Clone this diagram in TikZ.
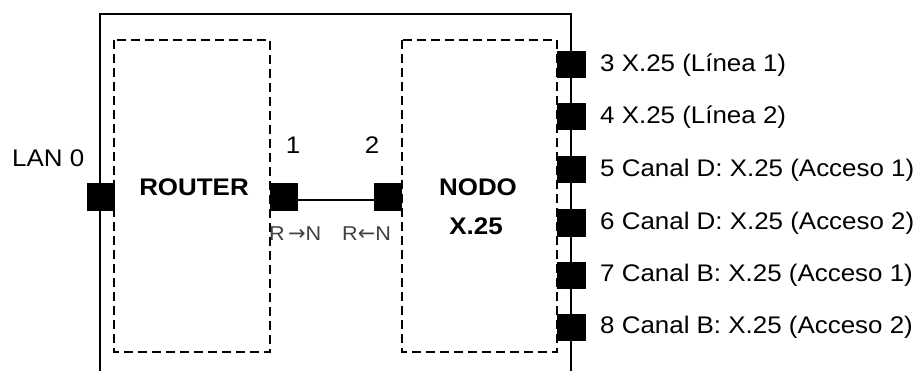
\documentclass[tikz,border=0pt]{standalone}
\usepackage{fontspec}
\setmainfont{Liberation Sans}[FakeStretch=1.08]
\newfontfamily\symfont{DejaVu Sans}
\begin{document}
\begin{tikzpicture}[x=1pt,y=-1pt,
  port/.style={fill=black,draw=none,minimum width=28pt,minimum height=28pt,inner sep=0pt},
  rport/.style={fill=black,draw=none,minimum width=29pt,minimum height=27pt,inner sep=0pt},
  frame/.style={line width=1.3pt},
  dbox/.style={line width=1.3pt,dash pattern=on 9pt off 5pt},
  lbl/.style={inner sep=0pt,font=\fontsize{24}{28}\selectfont},
  blbl/.style={inner sep=0pt,font=\fontsize{24}{28}\selectfont\bfseries},
  small/.style={inner sep=0pt,text=black!75,font=\fontsize{20}{24}\selectfont}]
\useasboundingbox (0,0) rectangle (917,371);
% outer frame (open at bottom)
\draw[frame] (100,371) -- (100,14) -- (571,14) -- (571,371);
% dashed boxes
\draw[dbox] (114,40) rectangle (270,352);
\draw[dbox] (402,40) rectangle (557,352);
% ports
\node[port] (lan) at (101,197) {};
\node[port] (p1) at (284,197) {};
\node[port] (p2) at (388,197) {};
\node[rport] (p3) at (571,65) {};
\node[rport] (p4) at (571,117) {};
\node[rport] (p5) at (571,170) {};
\node[rport] (p6) at (571,223) {};
\node[rport] (p7) at (571,275) {};
\node[rport] (p8) at (571,327) {};
\draw[line width=1.3pt] ([yshift=-3pt]p1.east) -- ([yshift=-3pt]p2.west);
% labels
\node[lbl,anchor=west] (tlan) at (12,158) {LAN 0};
\node[blbl] (trouter) at (194,187) {ROUTER};
\node[blbl] (tnodo) at (478,187) {NODO};
\node[blbl] (tx) at (476,226) {X.25};
\node[lbl] (t1) at (293,145) {1};
\node[lbl] (t2) at (372,145) {2};
\node[small,anchor=west] (trn) at (269,234) {R\,{\symfont\fontsize{21}{24}\selectfont →}N};
\node[small,anchor=west] (tnr) at (342,234) {R{\symfont\fontsize{21}{24}\selectfont ←}N};
\node[lbl,anchor=west] (l3) at (600,65) {3 X.25 (Línea 1)};
\node[lbl,anchor=west] (l4) at (600,117) {4 X.25 (Línea 2)};
\node[lbl,anchor=west] (l5) at (600,170) {5 Canal D: X.25 (Acceso 1)};
\node[lbl,anchor=west] (l6) at (600,223) {6 Canal D: X.25 (Acceso 2)};
\node[lbl,anchor=west] (l7) at (600,275) {7 Canal B: X.25 (Acceso 1)};
\node[lbl,anchor=west] (l8) at (600,327) {8 Canal B: X.25 (Acceso 2)};
\end{tikzpicture}
\end{document}
